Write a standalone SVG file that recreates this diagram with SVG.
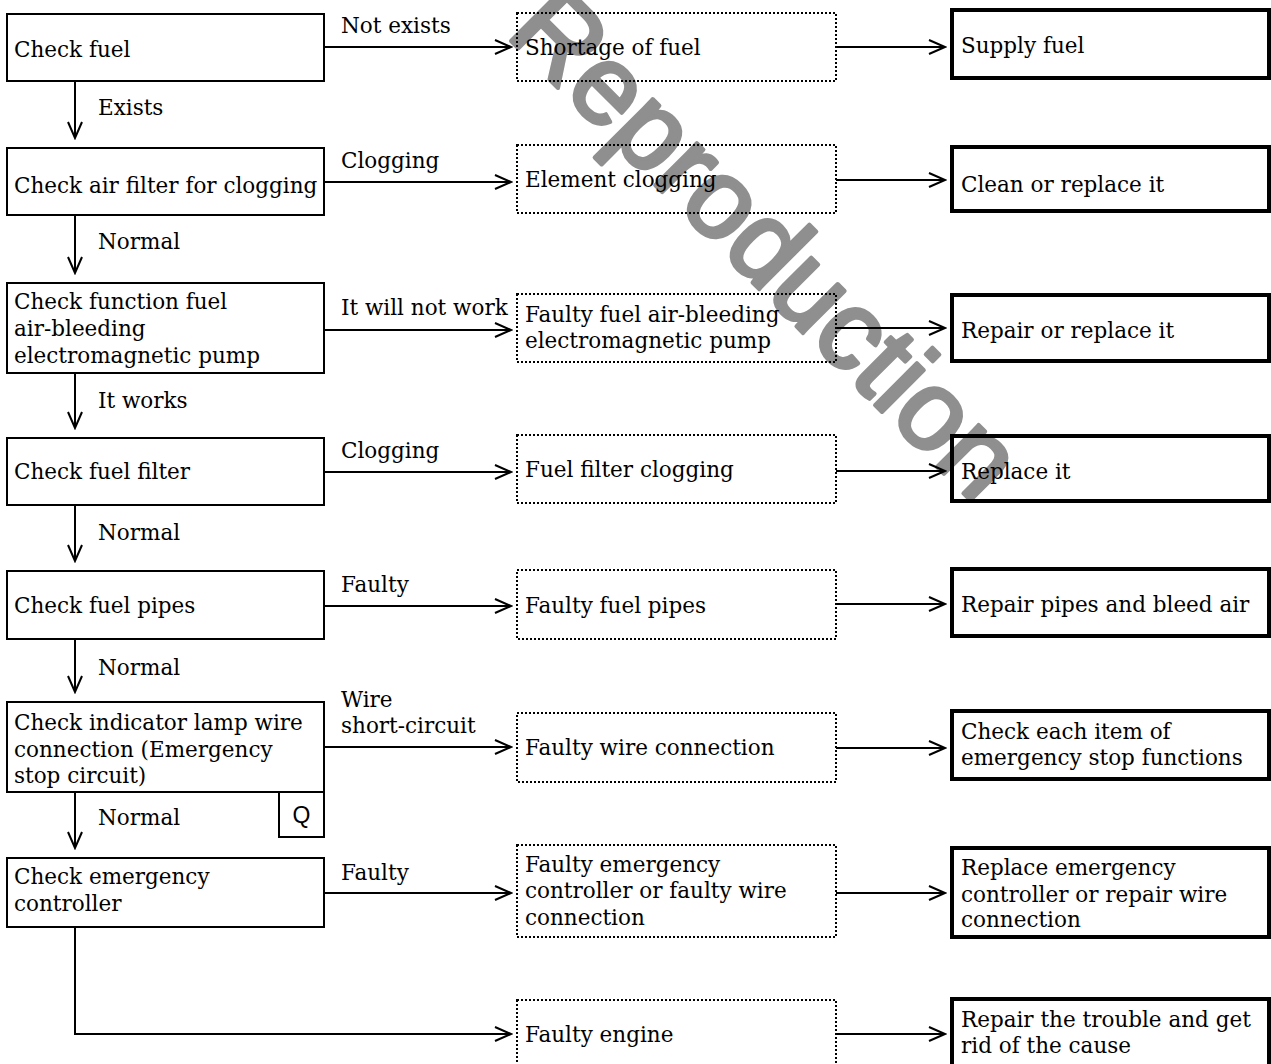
<svg xmlns="http://www.w3.org/2000/svg" width="1271" height="1064" viewBox="0 0 1271 1064">
<defs>
<marker id="arr" markerUnits="userSpaceOnUse" markerWidth="20" markerHeight="20" viewBox="-18 -9 20 18" refX="0" refY="0" orient="auto">
<path d="M-16,-7 L0,0 L-16,7" fill="none" stroke="#000" stroke-width="2"/>
</marker>
<style>
.t{font-family:"DejaVu Serif","Liberation Serif",serif;font-size:21.5px;fill:#000}
.chk{fill:none;stroke:#000;stroke-width:2}
.cause{fill:none;stroke:#000;stroke-width:2;stroke-dasharray:2 2}
.fix{fill:none;stroke:#000;stroke-width:4}
.ln{fill:none;stroke:#000;stroke-width:2}
.wm{font-family:"Liberation Sans",Arial,sans-serif;font-size:112px;fill:#8f8f8f;stroke:#8f8f8f;stroke-width:4;stroke-linejoin:round}
.q{font-family:"Liberation Sans",Arial,sans-serif;font-size:23px;fill:#000}
</style>
</defs>
<rect width="1271" height="1064" fill="#fff"/>
<text class="wm" x="740" y="270" text-anchor="middle" transform="rotate(45 740 270)">Reproduction</text>

<g id="connectors">
<line class="ln" x1="75" y1="81" x2="75" y2="138" marker-end="url(#arr)"/>
<line class="ln" x1="75" y1="215" x2="75" y2="273" marker-end="url(#arr)"/>
<line class="ln" x1="75" y1="373" x2="75" y2="428" marker-end="url(#arr)"/>
<line class="ln" x1="75" y1="505" x2="75" y2="561" marker-end="url(#arr)"/>
<line class="ln" x1="75" y1="639" x2="75" y2="692" marker-end="url(#arr)"/>
<line class="ln" x1="75" y1="792" x2="75" y2="848" marker-end="url(#arr)"/>
<path class="ln" d="M75,927 V1034 H511" marker-end="url(#arr)"/>
<line class="ln" x1="324" y1="47" x2="511" y2="47" marker-end="url(#arr)"/>
<line class="ln" x1="324" y1="182" x2="511" y2="182" marker-end="url(#arr)"/>
<line class="ln" x1="324" y1="330" x2="511" y2="330" marker-end="url(#arr)"/>
<line class="ln" x1="324" y1="472" x2="511" y2="472" marker-end="url(#arr)"/>
<line class="ln" x1="324" y1="606" x2="511" y2="606" marker-end="url(#arr)"/>
<line class="ln" x1="324" y1="747" x2="511" y2="747" marker-end="url(#arr)"/>
<line class="ln" x1="324" y1="893" x2="511" y2="893" marker-end="url(#arr)"/>
<line class="ln" x1="836" y1="47" x2="945" y2="47" marker-end="url(#arr)"/>
<line class="ln" x1="836" y1="180" x2="945" y2="180" marker-end="url(#arr)"/>
<line class="ln" x1="836" y1="328" x2="945" y2="328" marker-end="url(#arr)"/>
<line class="ln" x1="836" y1="471" x2="945" y2="471" marker-end="url(#arr)"/>
<line class="ln" x1="836" y1="604" x2="945" y2="604" marker-end="url(#arr)"/>
<line class="ln" x1="836" y1="748" x2="945" y2="748" marker-end="url(#arr)"/>
<line class="ln" x1="836" y1="893" x2="945" y2="893" marker-end="url(#arr)"/>
<line class="ln" x1="836" y1="1034" x2="945" y2="1034" marker-end="url(#arr)"/>
<text class="t" x="341" y="33">Not exists</text>
<text class="t" x="98" y="115">Exists</text>
<text class="t" x="341" y="168">Clogging</text>
<text class="t" x="98" y="249">Normal</text>
<text class="t" x="341" y="315">It will not work</text>
<text class="t" x="98" y="408">It works</text>
<text class="t" x="341" y="458">Clogging</text>
<text class="t" x="98" y="540">Normal</text>
<text class="t" x="341" y="592">Faulty</text>
<text class="t" x="98" y="675">Normal</text>
<text class="t" x="341" y="707">Wire</text>
<text class="t" x="341" y="733">short-circuit</text>
<text class="t" x="98" y="825">Normal</text>
<text class="t" x="341" y="880">Faulty</text>
</g>

<g id="check-fuel"><rect class="chk" x="7" y="14" width="317" height="67"/><text class="t" x="14" y="57">Check fuel</text></g>
<g id="check-air-filter"><rect class="chk" x="7" y="148" width="317" height="67"/><text class="t" x="14" y="193">Check air filter for clogging</text></g>
<g id="check-pump"><rect class="chk" x="7" y="283" width="317" height="90"/><text class="t" x="14" y="309">Check function fuel</text><text class="t" x="14" y="336">air-bleeding</text><text class="t" x="14" y="363">electromagnetic pump</text></g>
<g id="check-fuel-filter"><rect class="chk" x="7" y="438" width="317" height="67"/><text class="t" x="14" y="479">Check fuel filter</text></g>
<g id="check-fuel-pipes"><rect class="chk" x="7" y="571" width="317" height="68"/><text class="t" x="14" y="613">Check fuel pipes</text></g>
<g id="check-lamp-wire"><rect class="chk" x="7" y="702" width="317" height="90"/><text class="t" x="14" y="730">Check indicator lamp wire</text><text class="t" x="14" y="757">connection (Emergency</text><text class="t" x="14" y="783">stop circuit)</text></g>
<g id="q-mark"><rect class="chk" x="279" y="792" width="45" height="45"/><text class="q" x="301.5" y="823" text-anchor="middle">Q</text></g>
<g id="check-controller"><rect class="chk" x="7" y="858" width="317" height="69"/><text class="t" x="14" y="884">Check emergency</text><text class="t" x="14" y="911">controller</text></g>

<g id="shortage-fuel"><rect class="cause" x="517" y="13" width="319" height="68"/><text class="t" x="525" y="55">Shortage of fuel</text></g>
<g id="element-clogging"><rect class="cause" x="517" y="145" width="319" height="68"/><text class="t" x="525" y="187">Element clogging</text></g>
<g id="faulty-pump"><rect class="cause" x="517" y="294" width="319" height="68"/><text class="t" x="525" y="322">Faulty fuel air-bleeding</text><text class="t" x="525" y="348">electromagnetic pump</text></g>
<g id="fuel-filter-clogging"><rect class="cause" x="517" y="435" width="319" height="68"/><text class="t" x="525" y="477">Fuel filter clogging</text></g>
<g id="faulty-pipes"><rect class="cause" x="517" y="570" width="319" height="69"/><text class="t" x="525" y="613">Faulty fuel pipes</text></g>
<g id="faulty-wire"><rect class="cause" x="517" y="713" width="319" height="69"/><text class="t" x="525" y="755">Faulty wire connection</text></g>
<g id="faulty-controller"><rect class="cause" x="517" y="845" width="319" height="92"/><text class="t" x="525" y="872">Faulty emergency</text><text class="t" x="525" y="898">controller or faulty wire</text><text class="t" x="525" y="925">connection</text></g>
<g id="faulty-engine"><rect class="cause" x="517" y="1000" width="319" height="70"/><text class="t" x="525" y="1042">Faulty engine</text></g>

<g id="supply-fuel"><rect class="fix" x="952" y="10" width="317" height="68"/><text class="t" x="961" y="53">Supply fuel</text></g>
<g id="clean-replace"><rect class="fix" x="952" y="147" width="317" height="64"/><text class="t" x="961" y="192">Clean or replace it</text></g>
<g id="repair-replace"><rect class="fix" x="952" y="295" width="317" height="66"/><text class="t" x="961" y="338">Repair or replace it</text></g>
<g id="replace-it"><rect class="fix" x="952" y="436" width="317" height="65"/><text class="t" x="961" y="479">Replace it</text></g>
<g id="repair-pipes"><rect class="fix" x="952" y="569" width="317" height="67"/><text class="t" x="961" y="612">Repair pipes and bleed air</text></g>
<g id="check-stop-functions"><rect class="fix" x="952" y="711" width="317" height="68"/><text class="t" x="961" y="739">Check each item of</text><text class="t" x="961" y="765">emergency stop functions</text></g>
<g id="replace-controller"><rect class="fix" x="952" y="848" width="317" height="89"/><text class="t" x="961" y="875">Replace emergency</text><text class="t" x="961" y="902">controller or repair wire</text><text class="t" x="961" y="927">connection</text></g>
<g id="repair-trouble"><rect class="fix" x="952" y="999" width="317" height="80"/><text class="t" x="961" y="1027">Repair the trouble and get</text><text class="t" x="961" y="1053">rid of the cause</text></g>
</svg>
